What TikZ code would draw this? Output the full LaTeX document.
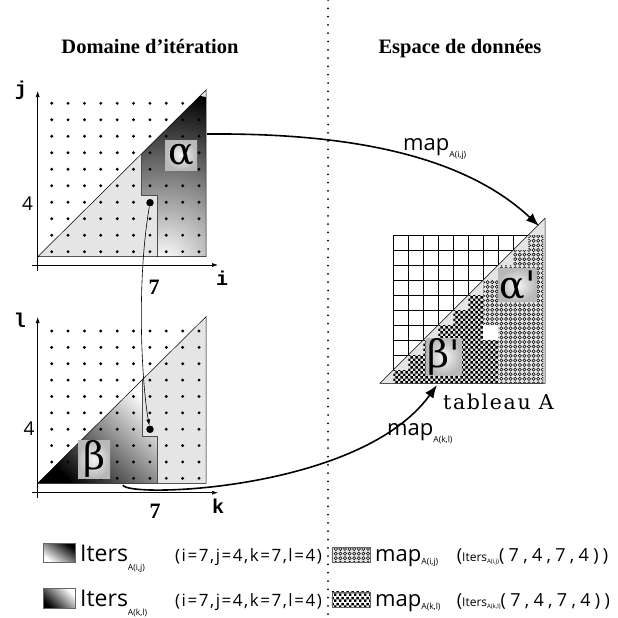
\documentclass[tikz,border=0pt]{standalone}
\usepackage{fontspec}
\setmainfont{Liberation Serif}
\setsansfont{Open Sans}
\setmonofont{Liberation Mono}
\newfontfamily\tabfont{DejaVu Serif}
\usetikzlibrary{arrows.meta, patterns.meta}

\definecolor{fillgray}{gray}{0.9}

\newcommand{\ddhead}{\fontsize{20.5}{24}\selectfont\bfseries}
\newcommand{\ddgreek}{\tabfont\fontsize{38}{38}\selectfont}
\newcommand{\ddaxis}{\ttfamily\bfseries\fontsize{20}{20}\selectfont}
\newcommand{\ddnum}{\sffamily\fontsize{19}{19}\selectfont}
\newcommand{\ddseven}{\bfseries\fontsize{22}{22}\selectfont}
\newcommand{\ddmap}{\sffamily\fontsize{22}{22}\selectfont}
\newcommand{\ddleg}{\sffamily\fontsize{23}{23}\selectfont}
\newcommand{\ddpar}{\sffamily\fontsize{17}{17}\selectfont\addfontfeatures{LetterSpace=9}}
\newcommand{\ddwide}{\sffamily\fontsize{18}{18}\selectfont\addfontfeatures{LetterSpace=24}}
\newcommand{\subidx}[2][5pt]{\raisebox{-#1}{\sffamily\fontsize{8.5}{8.5}\selectfont #2}}
\newcommand{\itersarg}[1]{{\ddwide(}{\sffamily\fontsize{12}{12}\selectfont Iters}\raisebox{-2pt}{\sffamily\fontsize{6}{6}\selectfont #1}{\ddwide(7,4,7,4))}}

\tikzdeclarepattern{
  name=rings,
  type=uncolored,
  bottom left={(-2.3pt,-2.3pt)},
  top right={(2.3pt,2.3pt)},
  tile size={(4.6pt,4.6pt)},
  code={\draw[line width=0.55pt] (0pt,0pt) circle[radius=1.6pt];}
}
\tikzdeclarepattern{
  name=checks,
  type=uncolored,
  bottom left={(0pt,0pt)},
  top right={(5.4pt,5.4pt)},
  tile size={(5.4pt,5.4pt)},
  code={\fill (0pt,0pt) rectangle (2.7pt,2.7pt); \fill (2.7pt,2.7pt) rectangle (5.4pt,5.4pt);}
}

\begin{document}
\begin{tikzpicture}[
    x=1pt, y=-1pt,
    axis/.style={-{Latex[length=6pt,width=4pt]}, line width=0.6pt},
    maparrow/.style={-{Latex[length=13pt,width=10pt]}, line width=1.6pt},
    dotarrow/.style={-{Latex[length=6pt,width=4pt]}, line width=0.6pt},
    bigdot/.style={circle, fill=black, inner sep=0pt, minimum size=7.5pt},
    tri/.style={draw=black, line width=0.5pt},
    stair/.style={draw=black!70, line width=0.5pt},
    alphashade/.style={top color=black, bottom color=white, shading angle=-35},
    betashade/.style={top color=white, bottom color=black, shading angle=-45},
    greekbox/.style={inner color=black!4, outer color=black!28, inner sep=0pt, font=\ddgreek},
    sepline/.style={line width=2pt, dash pattern=on 0pt off 8.3pt, line cap=round},
    gridline/.style={line width=0.7pt},
    swatch/.style={draw=black!60, line width=0.4pt, inner sep=0pt},
    txt/.style={inner sep=0pt}
]
\useasboundingbox (0,0) rectangle (618,618);

\draw[sepline] (328,0) -- (328,618);

\node[txt, font=\ddhead, anchor=base] (hdom) at (150,53) {Domaine d'itération};
\node[txt, font=\ddhead, anchor=base] (hesp) at (460,53) {Espace de données};

\coordinate (o1) at (37.7,256.7);
\coordinate (c1) at (206,256.7);
\coordinate (t1) at (206,90);
\fill[fillgray] (o1) -- (c1) -- (t1) -- cycle;
\begin{scope}
  \clip (141.3,154.1) -- (141.3,195) -- (157.7,195) -- (157.7,256.7) -- (c1) -- (t1) -- cycle;
  \shade[inner color=white, outer color=black] (164,262) circle[radius=170];
\end{scope}
\draw[stair] (141.3,154.1) -- (141.3,195) -- (157.7,195) -- (157.7,256.7);
\draw[tri] (o1) -- (c1) -- (t1) -- cycle;

\coordinate (o2) at (37.7,483.3);
\coordinate (c2) at (206,483.3);
\coordinate (t2) at (206,316.7);
\fill[fillgray] (o2) -- (c2) -- (t2) -- cycle;
\shade[betashade] (o2) -- (142.7,379.4) -- (142.7,436.7) -- (157.7,436.7) -- (157.7,483.3) -- cycle;
\draw[stair] (142.7,379.4) -- (142.7,436.7) -- (157.7,436.7) -- (157.7,483.3);
\draw[tri] (o2) -- (c2) -- (t2) -- cycle;

\foreach \c in {0,...,9}
  \foreach \r in {0,...,9} {
    \fill (51.7+16.37*\c, 103.3+16.49*\r) circle[radius=1.6];
    \fill (51.7+16.37*\c, 331+16.37*\r) circle[radius=1.6];
  }

\draw[axis] (37.7,271) -- (37.7,91);
\draw[axis] (32,265) -- (218,265);
\draw[axis] (37.7,498) -- (37.7,317);
\draw[axis] (32,492.7) -- (218,492.7);

\node[txt, font=\ddaxis] (lj) at (21,90) {j};
\node[txt, font=\ddaxis] (li) at (222,278) {i};
\node[txt, font=\ddaxis] (ll) at (20,320) {l};
\node[txt, font=\ddaxis] (lk) at (218,506) {k};
\node[txt, font=\ddnum] (lfour1) at (27.5,203.3) {4};
\node[txt, font=\ddnum] (lfour2) at (29,429) {4};
\node[txt, font=\ddseven] (lseven1) at (154,287) {7};
\node[txt, font=\ddseven] (lseven2) at (155,511) {7};

\node[greekbox, minimum width=32pt, minimum height=30pt] (alpha) at (181,155) {α};
\node[greekbox, minimum width=32pt, minimum height=38pt] (beta) at (94,459) {β};

\node[bigdot] (pij) at (150,202.7) {};
\node[bigdot] (pkl) at (150,429.3) {};
\draw[dotarrow] (pij) .. controls (136,285) and (142,385) .. (pkl);

\foreach \k in {0,...,10}
  \draw[gridline] (393.3+15*\k,235) -- (393.3+15*\k,383.3);
\foreach \k in {0,...,9}
  \draw[gridline] (393.3,235+15*\k) -- (543.3,235+15*\k);

\coordinate (tabbl) at (380,383.3);
\coordinate (tabbr) at (545,383.3);
\coordinate (tabtr) at (545,218.3);
\fill[fillgray] (tabbl) -- (tabbr) -- (tabtr) -- cycle;
\fill[pattern=rings] (528.3,235) -- (543.3,235) -- (543.3,383.3) -- (498.3,383.3) -- (498.3,325) -- (483.3,325) -- (483.3,280) -- (498.3,280) -- (498.3,265) -- (513.3,265) -- (513.3,250) -- (528.3,250) -- cycle;
\fill[pattern=checks] (393.3,370) -- (408.3,370) -- (408.3,355) -- (423.3,355) -- (423.3,340) -- (438.3,340) -- (438.3,325) -- (453.3,325) -- (453.3,310) -- (468.3,310) -- (468.3,295) -- (483.3,295) -- (483.3,340) -- (498.3,340) -- (498.3,383.3) -- (393.3,383.3) -- cycle;
\fill[white] (483.3,325) rectangle (498.3,340);
\draw[tri] (tabbl) -- (tabbr) -- (tabtr) -- cycle;

\node[greekbox, minimum width=38pt, minimum height=33pt] (alphap) at (517.5,285) {α\textquotesingle};
\node[greekbox, minimum width=35pt, minimum height=33pt] (betap) at (444,356.7) {β\textquotesingle};
\node[txt, font=\tabfont\fontsize{20.5}{20.5}\selectfont\addfontfeatures{LetterSpace=8}, anchor=base west] (tabA) at (443,409) {tableau A};

\coordinate (alphaout) at (207,134);
\coordinate (tabin1) at (539,226);
\coordinate (betaout) at (123,485);
\coordinate (tabin2) at (437,385);
\draw[maparrow] (alphaout) .. controls (340,133) and (460,152) .. (tabin1);
\draw[maparrow] (betaout) .. controls (125,498) and (360,492) .. (tabin2);
\node[txt, font=\ddmap, anchor=base west] (mapij) at (403,150) {map\subidx[7pt]{A(i,j)}};
\node[txt, font=\ddmap, anchor=base west] (mapkl) at (387,435) {map\subidx[7pt]{A(k,l)}};

\node[swatch, alphashade, minimum width=32pt, minimum height=18.5pt] (swij) at (59,552.5) {};
\node[swatch, betashade, minimum width=32pt, minimum height=20pt] (swkl) at (59,598) {};
\node[txt, font=\ddleg, anchor=base west] (itij) at (80,561) {Iters\subidx[9pt]{A(i,j)}};
\node[txt, font=\ddleg, anchor=base west] (itkl) at (80,606) {Iters\subidx[9pt]{A(k,l)}};
\node[txt, font=\ddpar, anchor=base west] (parij) at (175,561) {(i=7,j=4,k=7,l=4)};
\node[txt, font=\ddpar, anchor=base west] (parkl) at (175,606) {(i=7,j=4,k=7,l=4)};

\node[swatch, preaction={fill=fillgray}, pattern=rings, minimum width=38pt, minimum height=15pt] (swmapij) at (350.8,554.2) {};
\node[swatch, preaction={fill=white}, pattern=checks, minimum width=38pt, minimum height=15pt] (swmapkl) at (350.8,599.2) {};
\node[txt, font=\ddmap, anchor=base west] (mlij) at (375,561.7) {map\subidx[3pt]{A(i,j)}};
\node[txt, font=\ddmap, anchor=base west] (mlkl) at (375,606) {map\subidx[3pt]{A(k,l)}};
\node[txt, anchor=base west] (argij) at (456.7,561.7) {\itersarg{A(i,j)}};
\node[txt, anchor=base west] (argkl) at (456.7,606) {\itersarg{A(k,l)}};

\end{tikzpicture}
\end{document}
